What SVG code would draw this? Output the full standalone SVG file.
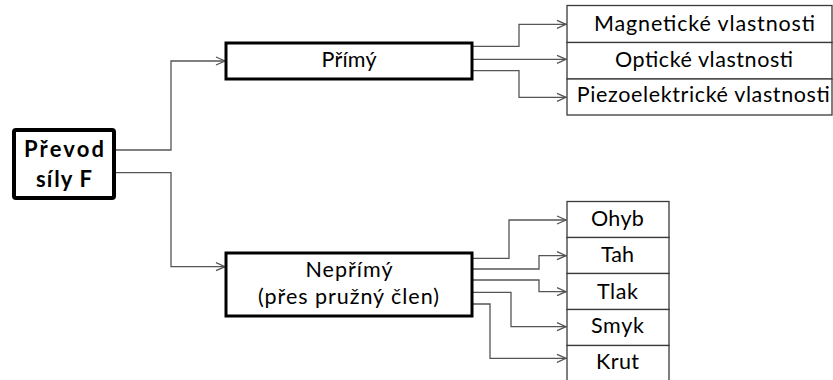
<svg xmlns="http://www.w3.org/2000/svg" width="833" height="380" viewBox="0 0 833 380">
  <style>
    .main { fill: #fff; stroke: #000; stroke-width: 3; }
    .root { fill: #fff; stroke: #000; stroke-width: 4; }
    .cell { fill: #fff; stroke: #3a3a3a; stroke-width: 1.3; }
    .lbl { font-family: Lato, "Open Sans", "Liberation Sans", sans-serif; font-size: 21.5px; fill: #000; text-anchor: middle; }
    .bold { font-weight: bold; font-size: 22px; }
    .wire { fill: none; stroke: #555; stroke-width: 1.3; marker-end: url(#chev); }
  </style>
  <defs>
    <marker id="chev" markerUnits="userSpaceOnUse" markerWidth="12" markerHeight="12" refX="10" refY="5" orient="auto">
      <path d="M1,1 L10,5 L1,9" fill="none" stroke="#555" stroke-width="1.3"/>
    </marker>
  </defs>

  <!-- connectors -->
  <g id="connectors">
    <path class="wire" d="M116,150 H171 V61 H225"/>
    <path class="wire" d="M116,172.7 H171 V266.7 H225"/>
    <path class="wire" d="M473,46.3 H519 V24.3 H566"/>
    <path class="wire" d="M473,59.3 H566"/>
    <path class="wire" d="M473,70.7 H519 V97.3 H566"/>
    <path class="wire" d="M473,258.3 H509 V220 H566"/>
    <path class="wire" d="M473,269 H539 V255.7 H566"/>
    <path class="wire" d="M473,280 H539 V291.7 H566"/>
    <path class="wire" d="M473,292.3 H511 V326.7 H566"/>
    <path class="wire" d="M473,304 H490 V358.3 H566"/>
  </g>

  <!-- root node -->
  <g id="prevod">
    <rect class="root" x="14" y="130" width="100" height="68" rx="2"/>
    <text class="lbl bold" x="64" y="156.5" textLength="80">Převod</text>
    <text class="lbl bold" x="64" y="186.5" textLength="56">síly F</text>
  </g>

  <!-- branch nodes -->
  <g id="primy">
    <rect class="main" x="226" y="43" width="246" height="36"/>
    <text class="lbl" x="349" y="66.7" textLength="55">Přímý</text>
  </g>
  <g id="neprimy">
    <rect class="main" x="226" y="253" width="246" height="63"/>
    <text class="lbl" x="349" y="276.7" textLength="87">Nepřímý</text>
    <text class="lbl" x="348.5" y="304" textLength="181">(přes pružný člen)</text>
  </g>

  <!-- direct conversion properties -->
  <g id="magneticke">
    <rect class="cell" x="567" y="5.5" width="265" height="37"/>
    <text class="lbl" x="704.5" y="31" textLength="221">Magnetické vlastnosti</text>
  </g>
  <g id="opticke">
    <rect class="cell" x="567" y="42.5" width="265" height="36.5"/>
    <text class="lbl" x="704" y="66.7" textLength="178">Optické vlastnosti</text>
  </g>
  <g id="piezoelektricke">
    <rect class="cell" x="567" y="79" width="265" height="36"/>
    <text class="lbl" x="703.3" y="101.7" textLength="253">Piezoelektrické vlastnosti</text>
  </g>

  <!-- indirect conversion loads -->
  <g id="ohyb">
    <rect class="cell" x="567" y="201.5" width="102" height="36"/>
    <text class="lbl" x="617.4" y="226" textLength="53">Ohyb</text>
  </g>
  <g id="tah">
    <rect class="cell" x="567" y="237.5" width="102" height="36"/>
    <text class="lbl" x="617.4" y="262.3" textLength="33">Tah</text>
  </g>
  <g id="tlak">
    <rect class="cell" x="567" y="273.5" width="102" height="36"/>
    <text class="lbl" x="617.4" y="298.7" textLength="41">Tlak</text>
  </g>
  <g id="smyk">
    <rect class="cell" x="567" y="309.5" width="102" height="36"/>
    <text class="lbl" x="617.4" y="333.3" textLength="53">Smyk</text>
  </g>
  <g id="krut">
    <rect class="cell" x="567" y="345.5" width="102" height="40"/>
    <text class="lbl" x="617.5" y="369.3" textLength="43">Krut</text>
  </g>
</svg>
